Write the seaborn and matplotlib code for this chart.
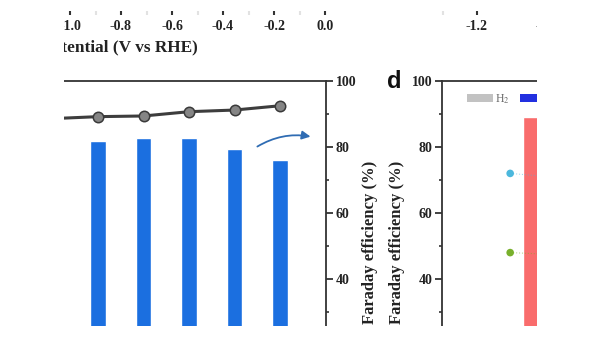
import matplotlib
matplotlib.use("Agg")
import matplotlib.pyplot as plt
from matplotlib.patches import Patch, Rectangle, FancyArrowPatch
from matplotlib.ticker import MultipleLocator
import seaborn as sns
import pandas as pd

# ---------------- data ----------------
left_potentials = ["-1.1", "-1.0", "-0.9", "-0.8", "-0.7", "-0.6"]
left_bar_fe = [79.0, 81.8, 82.6, 82.6, 79.3, 76.0]      # blue bars (%)
left_line_fe = [88.6, 89.2, 89.4, 90.7, 91.2, 92.5]     # grey line (%)

top_ticks_a = [-1.0, -0.8, -0.6, -0.4, -0.2, 0.0]
top_ticks_b = [-1.2, -1.0]

right_categories = ["-0.7"]
right_bar_fe = [89.0]                                   # red bar (%)
cyan_series = [72.0, 70.0]
green_series = [48.0, 47.0]
dot_positions = [-0.52, 0.8]

legend_labels = ["H$_2$", "CO"]

# ---------------- style ----------------
sns.set_style("ticks")
plt.rcParams["font.family"] = ["Liberation Serif", "DejaVu Serif"]
plt.rcParams["mathtext.fontset"] = "stix"
plt.rcParams["axes.linewidth"] = 1.3

W, H = 600, 338
def fx(px): return px / W
def fy(py): return 1 - py / H

fig = plt.figure(figsize=(6, 3.38), dpi=100)

SPINE = "#333333"
TICKFONT = dict(fontsize=10, fontweight="bold")

# ---------------- left panel ----------------
ax1 = fig.add_axes([fx(64), fy(326), fx(326) - fx(64), fy(81) - fy(326)])
df_left = pd.DataFrame({"pot": left_potentials, "bar": left_bar_fe, "line": left_line_fe})
sns.barplot(data=df_left, x="pot", y="bar", color="#1b6fe0", width=0.34,
            saturation=1, ax=ax1, zorder=2)
sns.lineplot(data=df_left, x="pot", y="line", color="#3d3d3d", lw=2.2,
             marker="o", markersize=7.5, markerfacecolor="#858585",
             markeredgecolor="#3a3a3a", markeredgewidth=1.1, ax=ax1, zorder=3,
             sort=False)
ax1.set_xlim(0.253, 6.01)
ax1.set_ylim(25.76, 100)
ax1.set_xlabel("")
ax1.set_ylabel("")
ax1.set_xticks([])
for s in ["left", "bottom"]:
    ax1.spines[s].set_visible(False)
for s in ["top", "right"]:
    ax1.spines[s].set_color(SPINE)
ax1.yaxis.tick_right()
ax1.yaxis.set_major_locator(MultipleLocator(20))
ax1.yaxis.set_minor_locator(MultipleLocator(10))
ax1.tick_params(axis="y", which="major", direction="out", length=5, width=1.3,
                pad=2, labelsize=10, colors=SPINE)
ax1.tick_params(axis="y", which="minor", direction="out", length=2.5, width=1.2,
                colors=SPINE)
for t in ax1.get_yticklabels():
    t.set_fontweight("bold"); t.set_color("#222222")

arrow = FancyArrowPatch((4.45, 79.7), (5.73, 83.0), connectionstyle="arc3,rad=-0.2",
                        arrowstyle="-|>,head_length=5,head_width=2.5",
                        color="#2f6cb3", lw=1.3, zorder=4)
ax1.add_patch(arrow)

# ---------------- right panel ----------------
ax2 = fig.add_axes([fx(442), fy(326), fx(537) - fx(442), fy(81) - fy(326)])
df_right = pd.DataFrame({"pot": right_categories, "fe": right_bar_fe})
sns.barplot(data=df_right, x="pot", y="fe", color="#f96c6c", width=0.6,
            saturation=1, ax=ax2, zorder=2)
for vals, col in [(cyan_series, "#4cb8dd"), (green_series, "#78b02c")]:
    sns.lineplot(x=dot_positions, y=vals, color=col, lw=0.8, ls=":",
                 alpha=0.5, ax=ax2, zorder=3)
    sns.scatterplot(x=dot_positions, y=vals, color=col, s=30,
                    edgecolor="none", ax=ax2, zorder=4)
ax2.set_xlim(-1.689, -0.06)
ax2.set_ylim(25.76, 100)
ax2.set_xlabel("")
ax2.set_ylabel("")
ax2.set_xticks([])
for s in ["right", "bottom"]:
    ax2.spines[s].set_visible(False)
for s in ["top", "left"]:
    ax2.spines[s].set_color(SPINE)
ax2.yaxis.set_major_locator(MultipleLocator(20))
ax2.yaxis.set_minor_locator(MultipleLocator(10))
ax2.tick_params(axis="y", which="major", direction="out", length=5, width=1.3,
                pad=2, labelsize=10, colors=SPINE)
ax2.tick_params(axis="y", which="minor", direction="out", length=2.5, width=1.2,
                colors=SPINE)
for t in ax2.get_yticklabels():
    t.set_fontweight("bold"); t.set_color("#222222")

handles = [Patch(facecolor="#c2c2c2", edgecolor="none"),
           Patch(facecolor="#2230e0", edgecolor="none")]
ax2.legend(handles=handles, labels=legend_labels, ncol=2, frameon=False,
           loc="upper left", bbox_to_anchor=(fx(467), fy(92)),
           bbox_transform=fig.transFigure, fontsize=8.5, handlelength=2.2,
           handleheight=0.68, handletextpad=0.2, columnspacing=0.85,
           borderpad=0, borderaxespad=0, labelcolor="#666666")

# ---------------- top (panel above) x-axes ----------------
axa = fig.add_axes([0, fy(11), fx(360), 0.0001])
axa.set_xlim(-1.0 - 70 / 255, -1.0 + 290 / 255)
axa.set_xticks(top_ticks_a)
axa.set_xticklabels([f"{v:.1f}" for v in top_ticks_a], **TICKFONT)
axa.set_xticks([-0.9, -0.7, -0.5, -0.3, -0.1], minor=True)
axb = fig.add_axes([fx(360), fy(11), fx(240), 0.0001])
axb.set_xlim(-1.2 - 117 / 345, -1.2 + 123 / 345)
axb.set_xticks(top_ticks_b)
axb.set_xticklabels([f"{v:.1f}" for v in top_ticks_b], **TICKFONT)
axb.set_xticks([-1.3], minor=True)
for a in (axa, axb):
    a.set_yticks([])
    a.patch.set_alpha(0)
    for s in a.spines.values():
        s.set_visible(False)
    a.tick_params(axis="x", which="major", direction="out", length=3, width=1.5,
                  pad=3.5, colors="#333333")
    a.tick_params(axis="x", which="minor", direction="out", length=3, width=1.5,
                  color="#e2e2e2")
    for t in a.get_xticklabels():
        t.set_color("#222222")

fig.text(fx(198), fy(47), "Potential (V vs RHE)", ha="right", va="center",
         fontsize=12.4, fontweight="bold", color="#222222")

# ---------------- panel letters and y labels ----------------
fig.text(fx(394), fy(81), "d", ha="center", va="center", fontsize=17,
         fontweight="bold", family=["Liberation Sans", "DejaVu Sans"], color="#111111")
fig.text(fx(370), fy(242), "Faraday efficiency (%)", rotation=90, ha="center",
         va="center", fontsize=12, fontweight="bold", color="#222222")
fig.text(fx(397), fy(242), "Faraday efficiency (%)", rotation=90, ha="center",
         va="center", fontsize=12, fontweight="bold", color="#222222")

# ---------------- crop masks (reference is a cut-out) ----------------
for (x0, y0, w, h) in [(0, 0, fx(64), 1), (fx(537), 0, 1, 1), (0, 0, 1, fy(326))]:
    fig.add_artist(Rectangle((x0, y0), w, h, transform=fig.transFigure,
                             facecolor="white", edgecolor="none", zorder=100))

fig.savefig("out.png", dpi=100)
